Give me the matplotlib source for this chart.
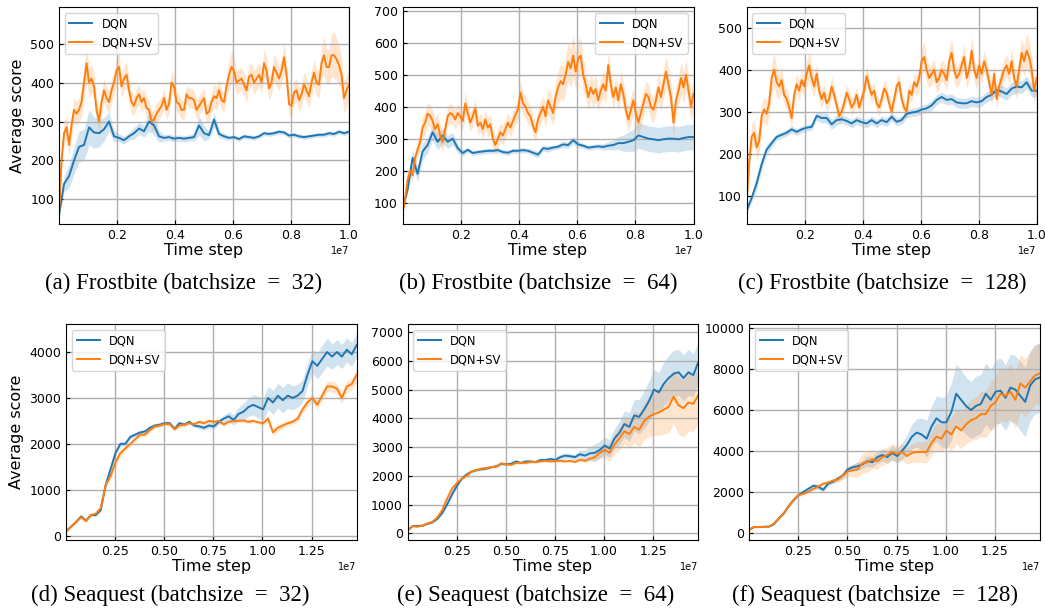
import matplotlib.pyplot as plt
import numpy as np

#==[0] Data (values per time-step sample)
# Frostbite: samples over 0 .. 1e7 steps
fb_steps_max = 1.0e7
# Seaquest: 60 samples over 0 .. 1.48e7 steps
sq_steps_max = 1.48e7

fb32_dqn = [60, 140, 160, 200, 235, 240, 285, 272, 270, 280, 300, 262, 258, 252, 262, 270,
            282, 275, 300, 290, 262, 258, 260, 256, 258, 256, 258, 260, 290, 270, 265, 305,
            268, 262, 258, 260, 255, 262, 260, 258, 262, 270, 268, 270, 274, 272, 264, 266,
            262, 260, 262, 264, 266, 266, 270, 268, 274, 270, 274]
fb32_dqn_sd = [5, 20, 30, 35, 40, 40, 45, 40, 35, 30, 25, 15, 10, 10, 10, 15, 15, 15, 25, 25,
               15, 8, 8, 8, 8, 8, 8, 10, 25, 20, 10, 20, 10, 8, 6, 6, 6, 6, 6, 6, 6, 6, 6, 6,
               6, 6, 6, 6, 6, 6, 6, 6, 6, 6, 6, 6, 6, 6, 6]
fb32_sv = [60, 200, 270, 285, 240, 290, 330, 320, 330, 350, 400, 450, 400, 410, 390, 330,
           300, 350, 380, 360, 350, 380, 400, 430, 440, 390, 410, 420, 380, 350, 340, 360,
           370, 350, 360, 335, 330, 300, 305, 320, 330, 340, 360, 330, 345, 400, 390, 350,
           345, 330, 330, 370, 360, 360, 355, 330, 340, 350, 360, 320, 325, 350, 365, 360,
           380, 355, 350, 390, 420, 440, 430, 400, 405, 410, 395, 380, 415, 420, 400, 410,
           420, 400, 450, 430, 385, 400, 440, 425, 410, 430, 465, 420, 345, 340, 375, 380,
           355, 370, 395, 380, 365, 400, 425, 400, 395, 450, 470, 440, 440, 470, 470, 460,
           445, 420, 360, 380, 395]
fb32_sv_sd = [5, 20, 30, 30, 30, 30, 30, 30, 30, 35, 40, 45, 40, 35, 35, 30, 30, 30, 30, 30,
              30, 30, 30, 35, 35, 30, 30, 35, 30, 30, 25, 25, 25, 25, 25, 25, 25, 25, 25, 25,
              25, 25, 25, 25, 25, 30, 30, 25, 25, 25, 25, 25, 25, 25, 25, 25, 25, 25, 25, 25,
              25, 25, 30, 30, 30, 25, 25, 30, 35, 40, 35, 30, 30, 30, 30, 30, 30, 30, 30, 30,
              30, 30, 35, 35, 30, 30, 35, 35, 30, 30, 40, 35, 30, 30, 30, 30, 30, 30, 30, 30,
              30, 30, 35, 35, 35, 40, 50, 45, 45, 55, 60, 55, 50, 45, 40, 40, 40]

fb64_dqn = [80, 140, 240, 190, 260, 280, 320, 290, 310, 290, 300, 270, 255, 265, 255, 258,
            260, 262, 262, 264, 258, 256, 262, 262, 264, 262, 256, 250, 270, 268, 272, 275,
            282, 280, 295, 282, 278, 272, 274, 276, 274, 278, 280, 286, 286, 290, 295, 310,
            305, 300, 298, 295, 298, 300, 300, 298, 302, 305, 305]
fb64_dqn_sd = [5, 15, 25, 25, 25, 25, 25, 25, 25, 20, 20, 15, 10, 8, 8, 8, 8, 8, 8, 8, 8, 8,
               8, 8, 8, 8, 10, 10, 10, 10, 8, 8, 10, 10, 12, 10, 8, 8, 8, 8, 10, 12, 15, 20,
               25, 30, 35, 40, 40, 40, 40, 40, 40, 40, 40, 40, 40, 40, 40]
fb64_sv = [67, 110, 170, 200, 185, 240, 265, 290, 335, 350, 378, 372, 355, 330, 345, 310,
           290, 330, 370, 380, 375, 360, 380, 370, 355, 410, 380, 350, 370, 395, 340, 350,
           330, 360, 335, 345, 300, 280, 300, 320, 310, 330, 350, 335, 355, 375, 390, 445,
           410, 400, 380, 370, 340, 320, 360, 380, 400, 370, 420, 400, 380, 430, 460, 480,
           470, 500, 540, 520, 560, 510, 550, 560, 500, 470, 430, 460, 440, 455, 420, 450,
           470, 450, 530, 470, 430, 460, 420, 470, 440, 390, 360, 390, 420, 380, 350, 380,
           410, 440, 430, 400, 390, 420, 460, 430, 470, 510, 470, 430, 350, 420, 450, 490,
           460, 500, 450, 400, 440]
fb64_sv_sd = [5, 10, 15, 20, 20, 25, 25, 30, 35, 35, 35, 35, 35, 35, 35, 30, 30, 30, 30, 30,
              30, 30, 30, 30, 30, 35, 30, 30, 30, 30, 30, 30, 30, 30, 30, 30, 30, 30, 30, 30,
              30, 30, 30, 30, 30, 30, 35, 40, 35, 35, 35, 30, 30, 30, 30, 35, 35, 35, 40, 40,
              40, 45, 50, 55, 55, 55, 60, 60, 65, 60, 60, 55, 50, 45, 40, 40, 40, 40, 35, 35,
              40, 40, 45, 40, 35, 35, 35, 40, 40, 40, 40, 40, 40, 40, 40, 40, 40, 40, 40, 40,
              40, 40, 45, 45, 45, 50, 50, 45, 45, 45, 45, 50, 50, 50, 50, 45, 45]

fb128_dqn = [65, 95, 130, 175, 210, 225, 240, 245, 250, 258, 252, 258, 262, 264, 290, 285,
             285, 270, 280, 282, 278, 272, 280, 275, 272, 280, 272, 280, 275, 288, 276, 280,
             295, 298, 300, 305, 308, 315, 328, 335, 328, 330, 322, 320, 320, 325, 322, 325,
             335, 340, 352, 348, 342, 355, 360, 358, 370, 350, 350]
fb128_dqn_sd = [5, 10, 15, 15, 12, 10, 8, 8, 8, 8, 8, 8, 8, 8, 10, 12, 12, 12, 12, 10, 10, 10,
                10, 10, 10, 10, 10, 10, 10, 10, 10, 10, 10, 10, 10, 10, 10, 12, 12, 12, 12, 12,
                12, 12, 12, 12, 12, 12, 12, 12, 12, 15, 15, 15, 15, 15, 15, 15, 15]
fb128_sv = [85, 180, 240, 250, 215, 230, 290, 305, 295, 320, 380, 400, 370, 360, 375, 340,
            330, 310, 285, 340, 365, 350, 375, 360, 390, 410, 380, 360, 390, 350, 330, 345,
            320, 330, 360, 340, 315, 290, 300, 320, 345, 330, 310, 320, 340, 310, 330, 350,
            385, 360, 340, 350, 320, 310, 330, 355, 345, 320, 300, 330, 360, 370, 330, 310,
            300, 350, 340, 370, 360, 380, 420, 430, 400, 380, 390, 400, 370, 380, 400, 390,
            375, 420, 440, 400, 380, 390, 410, 430, 380, 400, 445, 400, 380, 410, 390, 420,
            400, 370, 340, 390, 330, 360, 380, 400, 410, 390, 420, 380, 360, 400, 440, 420,
            445, 430, 400, 350, 380]
fb128_sv_sd = [10, 25, 30, 30, 30, 30, 30, 30, 30, 30, 35, 40, 35, 30, 30, 25, 25, 25, 25, 25,
               25, 25, 25, 25, 30, 35, 30, 25, 25, 25, 20, 20, 20, 20, 25, 20, 20, 20, 20, 20,
               20, 20, 20, 20, 20, 20, 20, 20, 25, 20, 20, 20, 20, 20, 20, 20, 20, 20, 20, 20,
               20, 20, 20, 20, 20, 20, 20, 20, 25, 25, 30, 35, 30, 25, 25, 25, 25, 25, 25, 25,
               25, 30, 35, 30, 25, 25, 25, 30, 25, 25, 35, 30, 25, 25, 25, 25, 25, 25, 25, 25,
               25, 25, 25, 25, 25, 25, 30, 30, 30, 30, 35, 35, 40, 40, 35, 30, 30]

sq32_dqn = [100, 200, 300, 420, 330, 450, 450, 560, 1100, 1450, 1800, 2000, 2000, 2150, 2200,
            2250, 2270, 2350, 2400, 2420, 2450, 2450, 2330, 2450, 2420, 2480, 2400, 2380, 2350,
            2400, 2380, 2480, 2550, 2600, 2520, 2650, 2700, 2800, 2850, 2800, 2750, 3000, 2900,
            3050, 2950, 3050, 3000, 3050, 3150, 3500, 3800, 3700, 3850, 4000, 3900, 4000, 3900,
            4050, 3950, 4150]
sq32_dqn_sd = [20, 20, 20, 30, 30, 30, 30, 40, 60, 60, 60, 50, 50, 50, 40, 40, 40, 40, 40, 40,
               40, 40, 40, 40, 40, 40, 40, 50, 50, 60, 60, 60, 80, 100, 120, 150, 180, 200, 220,
               240, 250, 250, 260, 270, 280, 280, 260, 250, 240, 250, 260, 280, 300, 300, 280,
               270, 260, 260, 260, 260]
sq32_sv = [100, 200, 300, 400, 320, 450, 480, 600, 1100, 1300, 1600, 1800, 1900, 2000, 2100,
           2200, 2200, 2300, 2380, 2400, 2430, 2430, 2320, 2400, 2420, 2450, 2430, 2480, 2450,
           2500, 2480, 2500, 2420, 2480, 2500, 2500, 2510, 2480, 2500, 2470, 2450, 2550, 2250,
           2350, 2400, 2450, 2480, 2550, 2750, 2900, 3000, 2850, 3050, 3250, 3250, 3200, 3000,
           3250, 3300, 3500]
sq32_sv_sd = [20, 20, 20, 30, 30, 30, 30, 40, 60, 80, 100, 80, 60, 50, 50, 50, 40, 40, 40, 40,
              40, 40, 40, 40, 40, 40, 40, 40, 40, 40, 40, 40, 40, 40, 40, 40, 40, 40, 40, 40,
              50, 80, 80, 70, 60, 60, 60, 70, 80, 100, 100, 100, 110, 120, 120, 120, 120, 120,
              130, 150]

sq64_dqn = [100, 250, 260, 260, 330, 380, 500, 700, 1000, 1350, 1650, 1900, 2050, 2150, 2200,
            2230, 2250, 2300, 2330, 2420, 2400, 2420, 2500, 2450, 2500, 2500, 2480, 2550, 2550,
            2580, 2550, 2650, 2700, 2680, 2650, 2750, 2700, 2780, 2800, 2900, 3050, 2950, 3300,
            3500, 3800, 3700, 4100, 4050, 4300, 4600, 5000, 4900, 5200, 5400, 5550, 5600, 5400,
            5600, 5500, 5950]
sq64_dqn_sd = [20, 20, 20, 20, 30, 30, 40, 50, 60, 60, 60, 50, 50, 40, 40, 40, 40, 40, 40, 60,
               50, 40, 40, 40, 40, 40, 40, 40, 60, 80, 100, 100, 100, 100, 100, 150, 200, 250,
               300, 300, 300, 300, 350, 400, 450, 500, 550, 600, 650, 700, 700, 700, 750, 800,
               800, 800, 800, 800, 750, 700]
sq64_sv = [100, 250, 230, 270, 340, 400, 550, 800, 1200, 1550, 1750, 1900, 2000, 2150, 2200,
           2250, 2270, 2300, 2320, 2430, 2400, 2380, 2450, 2450, 2450, 2480, 2480, 2500, 2520,
           2500, 2520, 2520, 2500, 2520, 2480, 2560, 2520, 2600, 2640, 2800, 2900, 2800, 3100,
           3300, 3550, 3450, 3700, 3600, 3900, 4050, 4150, 4200, 4300, 4400, 4750, 4450, 4350,
           4550, 4500, 4800]
sq64_sv_sd = [20, 20, 20, 20, 30, 30, 40, 50, 60, 60, 60, 50, 50, 40, 40, 40, 40, 40, 40, 40,
              40, 40, 40, 40, 40, 40, 40, 40, 40, 40, 40, 40, 40, 40, 40, 50, 60, 80, 120, 180,
              250, 300, 350, 400, 450, 500, 550, 600, 650, 700, 750, 800, 850, 900, 950, 1000,
              1000, 1000, 950, 950]

sq128_dqn = [150, 280, 280, 290, 300, 420, 700, 950, 1300, 1600, 1850, 2000, 2150, 2300, 2250,
             2100, 2400, 2500, 2650, 2800, 3100, 3200, 3250, 3350, 3500, 3450, 3700, 3800, 3700,
             3900, 3750, 4000, 4300, 4700, 4900, 4800, 4600, 5200, 5600, 5400, 5400, 5900, 6800,
             6500, 6200, 6000, 6200, 6300, 6800, 6500, 6900, 6950, 6600, 7100, 7000, 6700, 6400,
             7200, 7500, 7600]
sq128_dqn_sd = [30, 30, 30, 30, 30, 40, 50, 60, 80, 80, 80, 80, 80, 100, 150, 150, 100, 100,
                120, 150, 150, 150, 200, 200, 250, 250, 300, 300, 300, 350, 350, 400, 500, 600,
                700, 800, 900, 1000, 1100, 1200, 1300, 1400, 1450, 1450, 1400, 1400, 1450, 1450,
                1500, 1500, 1550, 1600, 1600, 1650, 1650, 1700, 1700, 1700, 1700, 1700]
sq128_sv = [150, 280, 280, 280, 300, 450, 700, 950, 1300, 1600, 1850, 1900, 2000, 2150, 2250,
            2400, 2450, 2550, 2600, 2800, 3000, 3050, 3100, 3400, 3450, 3600, 3500, 3700, 3800,
            3950, 3850, 3950, 3750, 3900, 3950, 3950, 3950, 4400, 4700, 4600, 5000, 4800, 5200,
            5000, 5300, 5500, 5600, 5800, 5800, 6200, 6400, 6800, 6700, 6900, 6500, 7300, 7100,
            7400, 7700, 7800]
sq128_sv_sd = [30, 30, 30, 30, 30, 40, 50, 60, 80, 80, 80, 80, 80, 80, 80, 80, 100, 120, 150,
               200, 250, 300, 400, 500, 500, 450, 400, 400, 400, 400, 400, 400, 400, 450, 500,
               500, 550, 600, 650, 700, 750, 800, 850, 900, 950, 1000, 1050, 1100, 1150, 1200,
               1250, 1300, 1300, 1350, 1400, 1400, 1400, 1450, 1450, 1500]

captions = ["(a) Frostbite (batchsize\u2002=\u200232)", "(b) Frostbite (batchsize\u2002=\u200264)",
            "(c) Frostbite (batchsize\u2002=\u2002128)", "(d) Seaquest (batchsize\u2002=\u200232)",
            "(e) Seaquest (batchsize\u2002=\u200264)", "(f) Seaquest (batchsize\u2002=\u2002128)"]

#==[1] Figure and axes placement (pixel-matched to the reference)
plt.rcParams['font.family'] = 'DejaVu Sans'
fig = plt.figure(figsize=(10.45, 6.11), dpi=100)

top_b, top_h = 0.6334, 0.3552
bot_b, bot_h = 0.1162, 0.3535
panels = [
    # axes rect, dqn, dqn_sd, sv, sv_sd, xmax, ylim, yticks, legend loc, caption xy (px)
    ([0.0565, top_b, 0.2775, top_h], fb32_dqn, fb32_dqn_sd, fb32_sv, fb32_sv_sd,
     fb_steps_max, (37, 594), [100, 200, 300, 400, 500], 'upper left', (184, 283)),
    ([0.3852, top_b, 0.2785, top_h], fb64_dqn, fb64_dqn_sd, fb64_sv, fb64_sv_sd,
     fb_steps_max, (33, 712), [100, 200, 300, 400, 500, 600, 700], 'upper right', (538, 283)),
    ([0.7145, top_b, 0.2775, top_h], fb128_dqn, fb128_dqn_sd, fb128_sv, fb128_sv_sd,
     fb_steps_max, (33, 549), [100, 200, 300, 400, 500], 'upper left', (882, 283)),
    ([0.0634, bot_b, 0.2779, bot_h], sq32_dqn, sq32_dqn_sd, sq32_sv, sq32_sv_sd,
     sq_steps_max, (-94, 4610), [0, 1000, 2000, 3000, 4000], 'upper left', (170, 595)),
    ([0.3901, bot_b, 0.2781, bot_h], sq64_dqn, sq64_dqn_sd, sq64_sv, sq64_sv_sd,
     sq_steps_max, (-233, 7278), [0, 1000, 2000, 3000, 4000, 5000, 6000, 7000], 'upper left', (536, 595)),
    ([0.7170, bot_b, 0.2782, bot_h], sq128_dqn, sq128_dqn_sd, sq128_sv, sq128_sv_sd,
     sq_steps_max, (-357, 10210), [0, 2000, 4000, 6000, 8000, 10000], 'upper left', (875, 595)),
]

for i, (rect, dqn, dqn_sd, sv, sv_sd, xmax, ylim, yticks, loc, cap_xy) in enumerate(panels):
    ax = fig.add_axes(rect)
    dqn = np.array(dqn, dtype=float)
    sv = np.array(sv, dtype=float)
    dqn_sd = np.array(dqn_sd, dtype=float)
    sv_sd = np.array(sv_sd, dtype=float)
    t_dqn = np.linspace(0, xmax, len(dqn))
    t_sv = np.linspace(0, xmax, len(sv))

    ax.plot(t_dqn, dqn, color='#1f77b4', lw=1.4, label='DQN')
    ax.fill_between(t_dqn, dqn - dqn_sd, dqn + dqn_sd, color='#1f77b4', alpha=0.2, lw=0)
    ax.plot(t_sv, sv, color='#ff7f0e', lw=1.4, label='DQN+SV')
    ax.fill_between(t_sv, sv - sv_sd, sv + sv_sd, color='#ff7f0e', alpha=0.2, lw=0)

    ax.set_xlim(0, xmax)
    ax.set_ylim(*ylim)
    ax.set_yticks(yticks)
    if xmax < 1.2e7:
        ax.set_xticks([0.2e7, 0.4e7, 0.6e7, 0.8e7, 1.0e7])
    else:
        ax.set_xticks([0.25e7, 0.5e7, 0.75e7, 1.0e7, 1.25e7])
    ax.grid(True, color='#b0b0b0', lw=1.0)
    ax.tick_params(direction='in', labelsize=9, length=3)
    ax.xaxis.get_offset_text().set_fontsize(7)
    ax.set_xlabel('Time step', fontsize=11.5, labelpad=1)
    if i % 3 == 0:
        ax.set_ylabel('Average score', fontsize=11.5)
    ax.legend(loc=loc, fontsize=8.3, framealpha=0.8, edgecolor='#cccccc')

    fig.text(cap_xy[0] / 1045, 1 - cap_xy[1] / 611, captions[i], ha='center', va='center',
             fontsize=16.5, family='Liberation Serif')

fig.savefig('out.png', dpi=100)
